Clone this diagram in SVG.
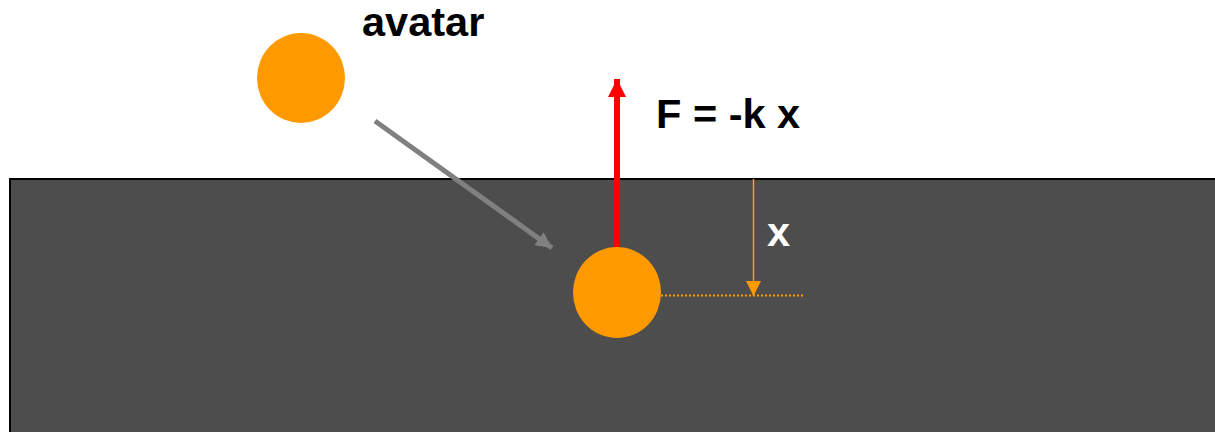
<svg xmlns="http://www.w3.org/2000/svg" width="1215" height="432" viewBox="0 0 1215 432">
<style>
.ball{fill:#ff9900}
.lbl{font-family:"Liberation Sans",Arial,sans-serif;font-weight:bold;font-size:41.5px}
</style>
<defs>
<marker id="mRed" viewBox="0 0 10 10" refX="10" refY="5" markerUnits="userSpaceOnUse" markerWidth="18" markerHeight="19" orient="auto"><path d="M0,0 L10,5 L0,10 z" fill="#ff0000"/></marker>
<marker id="mGray" viewBox="0 0 10 10" refX="10" refY="5" markerUnits="userSpaceOnUse" markerWidth="18" markerHeight="16" orient="auto"><path d="M0,0 L10,5 L0,10 z" fill="#808080"/></marker>
<marker id="mOr" viewBox="0 0 10 10" refX="10" refY="5" markerUnits="userSpaceOnUse" markerWidth="15" markerHeight="15" orient="auto"><path d="M0,0 L10,5 L0,10 z" fill="#ff9900"/></marker>
</defs>
<rect id="ground" x="10" y="179" width="1210" height="260" fill="#4d4d4d" stroke="#000" stroke-width="2"/>
<g id="avatar-before"><ellipse class="ball" cx="301" cy="78" rx="44" ry="45"/></g>
<g id="avatar-after"><ellipse class="ball" cx="617" cy="292.5" rx="44" ry="45.5"/></g>
<g id="connectors">
<line x1="375" y1="121" x2="552" y2="248" stroke="#808080" stroke-width="5" marker-end="url(#mGray)"/>
<line x1="617" y1="247" x2="617" y2="79" stroke="#ff0000" stroke-width="6" marker-end="url(#mRed)"/>
<line x1="753.5" y1="179" x2="753.5" y2="296" stroke="#ff9900" stroke-width="1.5" marker-end="url(#mOr)"/>
<line x1="661" y1="295.5" x2="804" y2="295.5" stroke="#ff9900" stroke-width="2" stroke-dasharray="2,2"/>
</g>
<g id="labels">
<text class="lbl" x="362" y="36" fill="#000">avatar</text>
<text class="lbl" x="656" y="128" fill="#000">F = -k x</text>
<text class="lbl" x="767" y="246" fill="#fff">x</text>
</g>
</svg>
